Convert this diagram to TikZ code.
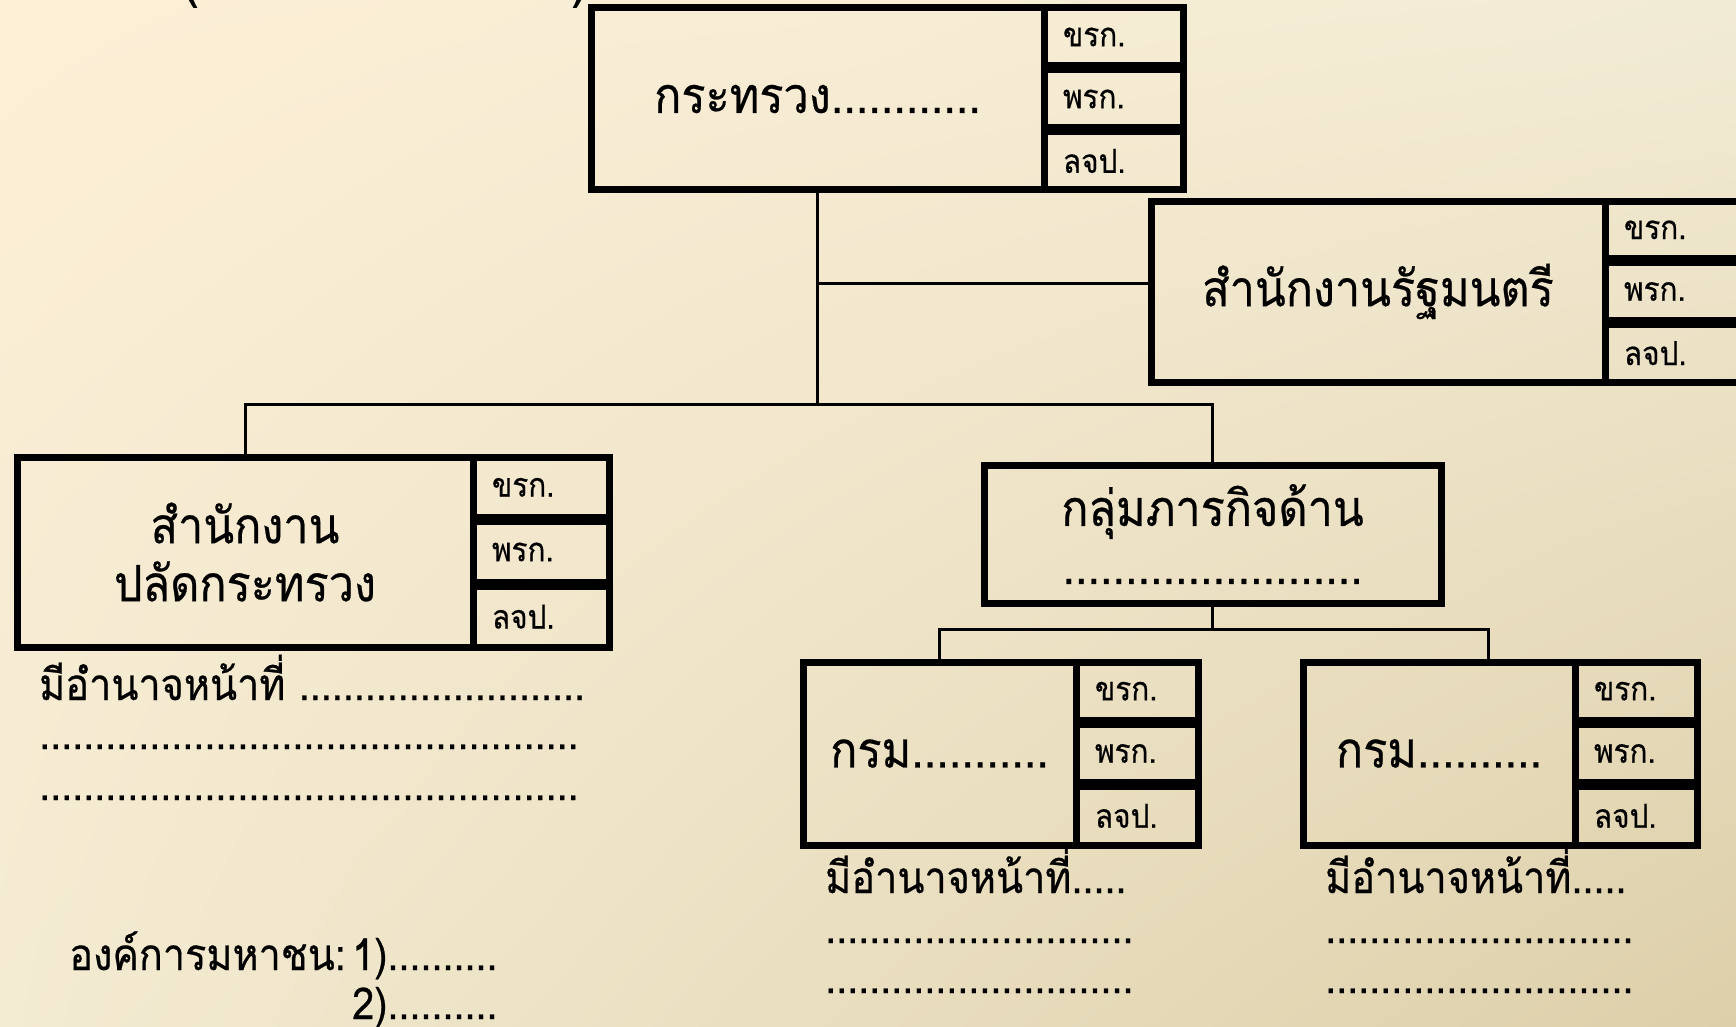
\documentclass[tikz,border=0pt]{standalone}
\usepackage{fontspec}
\usetikzlibrary{shadings}
\setmainfont[Script=Thai, FakeStretch=0.9, FakeBold=0.5]{Loma}
\definecolor{bgTL}{HTML}{FDEFD6}
\definecolor{bgTR}{HTML}{F2EBD4}
\definecolor{bgBL}{HTML}{F3EBD2}
\definecolor{bgBR}{HTML}{DDCFA9}
\tikzset{
  mainbox/.style={draw=black, line width=7pt, inner sep=0pt, align=center,
    font=\fontsize{50}{58}\selectfont},
  subbox/.style={draw=black, line width=7pt, inner sep=0pt, align=left,
    font=\fontsize{33}{36}\selectfont},
  link/.style={draw=black, line width=3pt},
  desc/.style={inner sep=0pt, font=\fontsize{44}{50}\selectfont},
}
\newcommand\orgunit[7]{%
  \pgfmathsetmacro\ucx{(#2+#3)/2}%
  \pgfmathsetmacro\ucy{(#5+#6)/2}%
  \pgfmathsetmacro\uw{#3-#2}%
  \pgfmathsetmacro\uh{#6-#5}%
  \node[mainbox, minimum width=\uw pt, minimum height=\uh pt] (#1) at (\ucx,\ucy) {#7};
  \pgfmathsetmacro\sw{#4-#3}%
  \pgfmathsetmacro\stw{#4-#3-38}%
  \pgfmathsetmacro\sh{(#6-#5-8)/3}%
  \pgfmathsetmacro\scx{(#3+#4)/2}%
  \foreach \k/\t in {1/ขรก., 2/พรก., 3/ลจป.}{%
    \pgfmathsetmacro\scy{#5+\sh/2+(\k-1)*(\sh+4)}%
    \node[subbox, minimum width=\sw pt, minimum height=\sh pt, text width=\stw pt] (#1-\k) at (\scx,\scy) {\t};
  }%
}
\begin{document}
\begin{tikzpicture}[x=1pt, y=-1pt]
\useasboundingbox (0,0) rectangle (1736,1027);
\shade[upper left=bgTL, upper right=bgTR, lower left=bgBL, lower right=bgBR] (0,0) rectangle (1736,1027);
% cut-off title parentheses
\node[inner sep=0pt, anchor=south, font=\fontsize{60}{60}\selectfont] (parL) at (190,8) {(};
\node[inner sep=0pt, anchor=south, font=\fontsize{60}{60}\selectfont] (parR) at (580,8) {)};
% boxes
\orgunit{top}{591}{1044}{1183}{8}{190}{กระทรวง............}
\orgunit{rmin}{1151}{1605}{1745}{201}{382}{สำนักงานรัฐมนตรี}
\orgunit{psec}{17}{473}{609}{457}{647}{สำนักงาน\\ปลัดกระทรวง}
\node[mainbox, minimum width=457pt, minimum height=138pt] (grp) at (1212.5,534) {กลุ่มภารกิจด้าน\\........................};
\orgunit{depA}{803}{1076}{1198}{662}{845}{กรม...........}
\orgunit{depB}{1303}{1575}{1697}{662}{845}{กรม..........}
% connectors
\coordinate (j1) at (top.south |- 0,404);
\coordinate (j2) at (grp.south |- 0,629);
\coordinate (rj) at ([yshift=8pt]rmin.west);
\draw[link] (top.south) -- (j1);
\draw[link] (top.south |- rj) -- (rj);
\draw[link] (psec.north) |- (j1) -| (grp.north);
\draw[link] (grp.south) -- (j2);
\coordinate (dj) at ([xshift=49pt]depB.north);
\draw[link] (depA.north) |- (j2) -| (dj);
% descriptions
\node[desc, anchor=base west] (pd1) at (39,700) {มีอำนาจหน้าที่ ..........................};
\node[desc, anchor=base west] (pd2) at (39,749) {.................................................};
\node[desc, anchor=base west] (pd3) at (39,800) {.................................................};
\node[desc, anchor=base west] (ad1) at (825,893) {มีอำนาจหน้าที่.....};
\node[desc, anchor=base west] (ad2) at (825,943) {............................};
\node[desc, anchor=base west] (ad3) at (825,993) {............................};
\node[desc, anchor=base west] (bd1) at (1325,893) {มีอำนาจหน้าที่.....};
\node[desc, anchor=base west] (bd2) at (1325,943) {............................};
\node[desc, anchor=base west] (bd3) at (1325,993) {............................};
\node[desc, anchor=base east] (pub0) at (346,970) {องค์การมหาชน:};
\node[desc, anchor=base west] (pub1) at (352,970) {1)..........};
\node[desc, anchor=base west] (pub2) at (352,1019) {2)..........};
\end{tikzpicture}
\end{document}
